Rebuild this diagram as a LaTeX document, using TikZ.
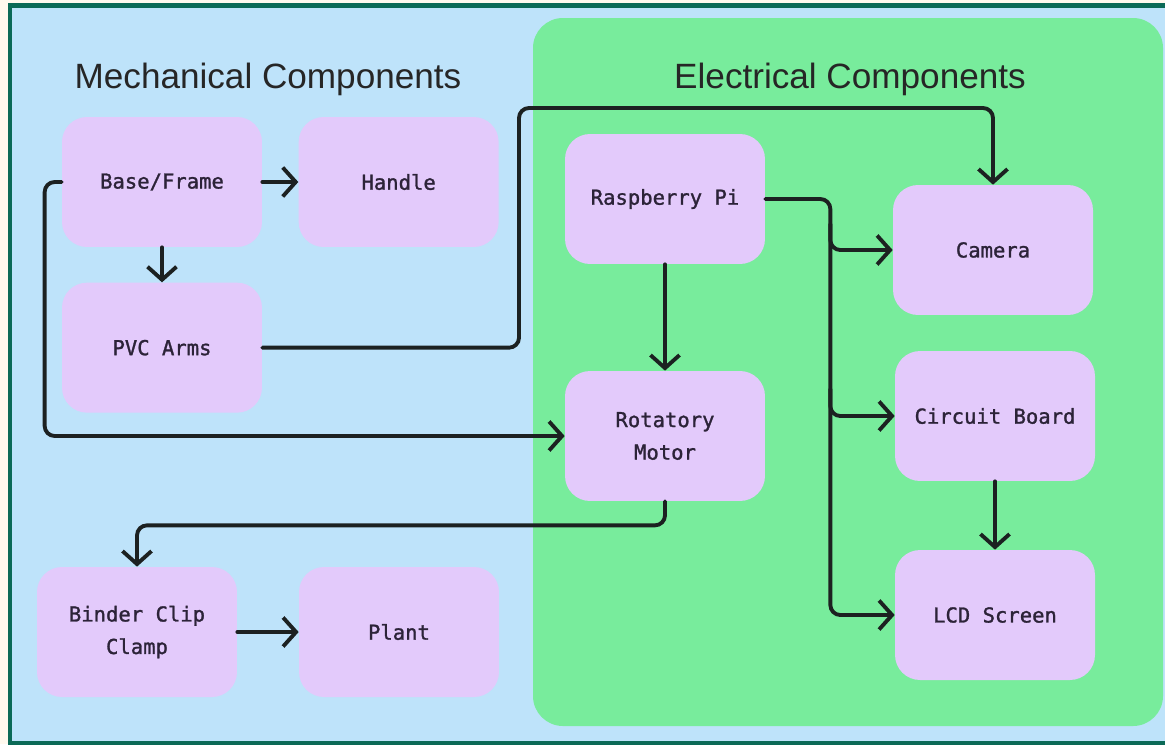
\documentclass[tikz,border=0pt]{standalone}
\usepackage{fontspec}
\setmainfont{Liberation Sans}
\newfontfamily\compfont[FakeBold=1.3]{DejaVu Sans Mono}
\usetikzlibrary{positioning,arrows.meta,calc}

\definecolor{paper}{HTML}{FFF9EE}
\definecolor{skyblue}{HTML}{BEE3FA}
\definecolor{panelgreen}{HTML}{78EC9C}
\definecolor{framegreen}{HTML}{0B6A57}
\definecolor{boxpink}{HTML}{E3CAFB}
\definecolor{boxtext}{HTML}{2C2338}
\definecolor{linkcol}{HTML}{1C2121}

\begin{document}
\begin{tikzpicture}[x=0.02cm, y=-0.02cm, node distance=0.7cm and 0.72cm,
  comp/.style={rectangle, rounded corners=0.5cm, fill=boxpink, text=boxtext,
    minimum width=4cm, minimum height=2.6cm, align=center, font=\compfont\fontsize{11.7}{18.5}\selectfont},
  heading/.style={font=\fontsize{20}{23}\selectfont, text=black!85},
  link/.style={-{Straight Barb[length=0.26cm, width=0.58cm, line width=2.2pt]}, line width=2.2pt,
    draw=linkcol, rounded corners=0.2cm, line cap=round}]
\useasboundingbox (0,0) rectangle (1165,744);
% background and frame
\fill[paper] (0,0) rectangle (1165,744);
\fill[skyblue] (10,5) rectangle (1165,743);
\draw[framegreen, line width=0.1cm] (1165,5) -- (10,5) -- (10,743) -- (1165,743);
\fill[panelgreen, rounded corners=0.6cm] (533,18) rectangle (1163,726);

% titles
\node[heading] (mechtitle) at (268,79) {Mechanical Components};
\node[heading] (electitle) at (850,79) {Electrical Components};

% mechanical side
\node[comp] (base) at (162,182) {Base/Frame};
\node[comp, right=of base] (handle) {Handle};
\node[comp, below=of base] (pvc) {PVC Arms};
\node[comp] (clamp) at (137,632) {Binder Clip\\Clamp};
\node[comp] (plant) at (399,632) {Plant};

% electrical side
\node[comp] (rpi) at (665,199) {Raspberry Pi};
\node[comp] (motor) at (665,436) {Rotatory\\Motor};
\node[comp] (camera) at (993,250) {Camera};
\node[comp] (circuit) at (995,416) {Circuit Board};
\node[comp] (lcd) at (995,615) {LCD Screen};

\coordinate (pvcbend) at (519,108);
\coordinate (bus) at ($(rpi.east)+(65,0)$);

% links
\draw[link] (base) -- (handle);
\draw[link] (base) -- (pvc);
\draw[link] (base.west) -- ++(-17,0) |- (motor.west);
\draw[link] (pvc.east) -| (pvcbend) -| (camera.north);
\draw[link] (rpi) -- (motor);
\draw[link] (rpi.east) -- (bus) |- (lcd.west);
\draw[link] ($(bus)+(0,25)$) |- (camera.west);
\draw[link] ($(bus)+(0,190)$) |- (circuit.west);
\draw[link] (circuit) -- (lcd);
\draw[link] (motor.south) -- ++(0,24) -| (clamp.north);
\draw[link] (clamp) -- (plant);
\end{tikzpicture}
\end{document}
